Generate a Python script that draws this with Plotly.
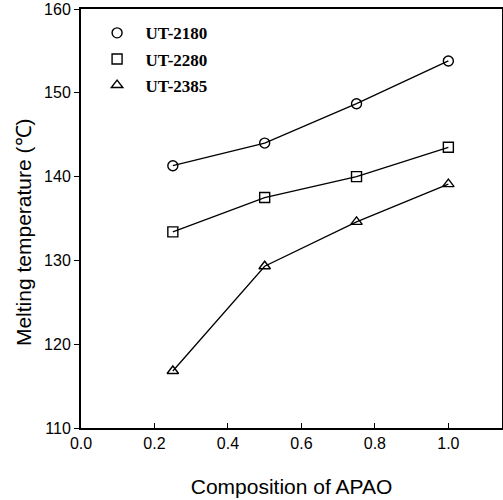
import plotly.graph_objects as go

composition = [0.25, 0.5, 0.75, 1.0]
ut2180 = [141.3, 144.0, 148.7, 153.8]
ut2280 = [133.4, 137.5, 140.0, 143.5]
ut2385 = [116.8, 129.3, 134.6, 139.1]
series_names = ["UT-2180", "UT-2280", "UT-2385"]
symbols = ["circle-open", "square-open", "triangle-up-open"]
x_ticks = [0.0, 0.2, 0.4, 0.6, 0.8, 1.0]
y_ticks = [110, 120, 130, 140, 150, 160]

fig = go.Figure()
for name, vals, sym in zip(series_names, [ut2180, ut2280, ut2385], symbols):
    fig.add_trace(go.Scatter(
        x=composition, y=vals, mode="lines+markers", showlegend=False,
        line=dict(color="black", width=1.3),
        marker=dict(symbol=sym, size=10, color="black", line=dict(width=1.4, color="black")),
    ))
    fig.add_trace(go.Scatter(
        x=[None], y=[None], mode="markers", name=name, legendgroup=name,
        marker=dict(symbol=sym, size=10, color="black", line=dict(width=1.4, color="black")),
    ))

fig.add_annotation(
    text="Melting temperature (℃)", textangle=-90, showarrow=False,
    xref="paper", yref="paper", x=-0.135, y=0.468, xanchor="center", yanchor="middle",
    font=dict(size=21, family="Liberation Sans, Arial", color="black"),
)

fig.update_layout(
    width=503, height=500,
    margin=dict(l=81, r=1, t=9, b=72, autoexpand=False),
    plot_bgcolor="white", paper_bgcolor="white",
    font=dict(family="Liberation Sans, Arial", size=16, color="black"),
    legend=dict(
        x=0.018, y=0.985, xanchor="left", yanchor="top",
        font=dict(family="Liberation Serif, Times New Roman", size=17, color="black", weight="bold"),
        bgcolor="rgba(0,0,0,0)", itemwidth=47, tracegroupgap=1, traceorder="grouped",
    ),
    xaxis=dict(
        range=[0, 1.146], tickvals=x_ticks, ticktext=["0.0", "0.2", "0.4", "0.6", "0.8", "1.0"],
        showgrid=False, zeroline=False, showline=True, linecolor="black", linewidth=2,
        mirror=True, ticks="inside", ticklen=5, tickcolor="black", tickwidth=1, automargin=False,
        title=dict(text="Composition of APAO", font=dict(size=21), standoff=28),
    ),
    yaxis=dict(
        range=[110, 160], tickvals=y_ticks,
        showgrid=False, zeroline=False, showline=True, linecolor="black", linewidth=2,
        mirror=True, ticks="outside", ticklen=5, tickcolor="black", tickwidth=1, automargin=False,
    ),
)

fig.write_html("out.html", config={"displayModeBar": False},
               post_script="document.body.style.margin='0';")
